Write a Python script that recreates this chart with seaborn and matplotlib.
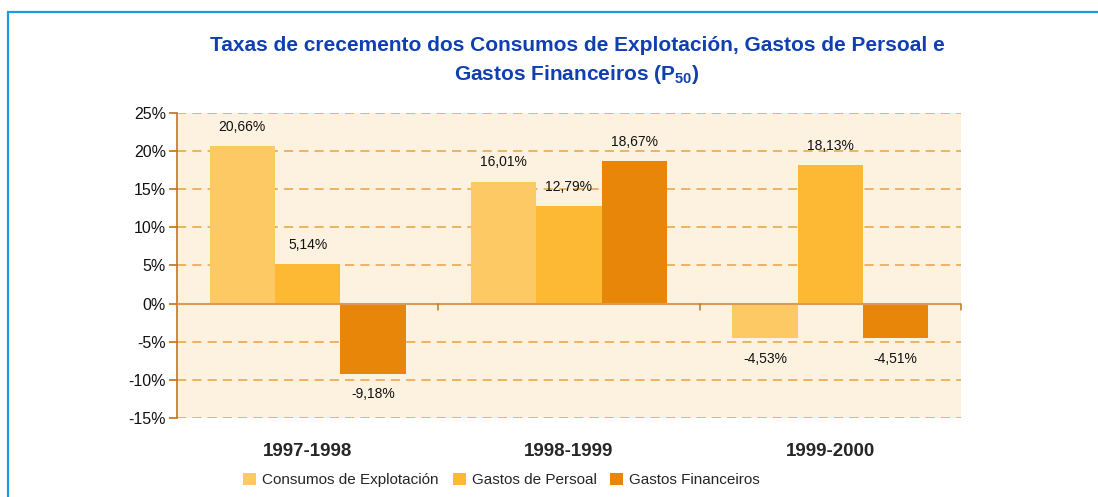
import matplotlib
matplotlib.use("Agg")
import matplotlib.pyplot as plt
import seaborn as sns
import pandas as pd
from matplotlib.patches import Rectangle, Patch
from matplotlib.ticker import FuncFormatter

periods = ["1997-1998", "1998-1999", "1999-2000"]
series = ["Consumos de Explotación", "Gastos de Persoal", "Gastos Financeiros"]
consumos = [20.66, 16.01, -4.53]
persoal = [5.14, 12.79, 18.13]
financeiros = [-9.18, 18.67, -4.51]
colors = ["#FDC965", "#FDB934", "#E8860A"]
yticks = [-15, -10, -5, 0, 5, 10, 15, 20, 25]

rows = []
for s, vals in zip(series, [consumos, persoal, financeiros]):
    for p, v in zip(periods, vals):
        rows.append({"period": p, "series": s, "value": v})
df = pd.DataFrame(rows)

sns.set_theme(style="white")
plt.rcParams["font.family"] = ["Liberation Sans", "DejaVu Sans"]

fig = plt.figure(figsize=(10.98, 4.97), dpi=100)
ax = fig.add_axes([0.1612, 0.159, 0.714, 0.6137])

# outer blue frame
fig.patches.append(Rectangle((0.0073, -0.1), 1.2, 0.1 + 0.976, transform=fig.transFigure,
                             fill=False, edgecolor="#1A9AE0", linewidth=1.6))

ax.set_facecolor("#FDF2DF")
sns.barplot(data=df, x="period", y="value", hue="series", palette=colors,
            order=periods, hue_order=series, width=0.75, gap=0, ax=ax,
            saturation=1, legend=False, edgecolor="none", linewidth=0, zorder=3)

ax.set_ylim(-15, 25)
ax.set_xlim(-0.5, 2.5)
ax.set_yticks(yticks)
ax.yaxis.set_major_formatter(FuncFormatter(lambda v, _: f"{int(v)}%"))
for y in yticks:
    if y != 0:
        ax.axhline(y, color="#EBA040", linestyle=(0, (6, 4)), linewidth=1.1, zorder=1)
ax.axhline(0, color="#D99A5A", linewidth=1.5, zorder=4)

for sp in ["top", "right", "bottom"]:
    ax.spines[sp].set_visible(False)
ax.spines["left"].set_color("#C07820")
ax.spines["left"].set_linewidth(1.2)
ax.tick_params(axis="y", which="both", left=True, length=6, color="#C07820",
               labelsize=11.5, pad=2, labelcolor="#111111")
ax.tick_params(axis="x", bottom=False, pad=12)
ax.set_xticks(range(len(periods)))
ax.set_xticklabels(periods, fontsize=13.5, fontweight="bold")
ax.set_xlabel("")
ax.set_ylabel("")

# small ticks on zero line at category boundaries
for xb in [0.5, 1.5, 2.5]:
    ax.plot([xb, xb], [0, -0.9], color="#C07820", linewidth=1.1, zorder=4, clip_on=False)

# value labels
for container in ax.containers:
    for bar in container:
        h = bar.get_height()
        xc = bar.get_x() + bar.get_width() / 2
        txt = f"{h:.2f}".replace(".", ",") + "%"
        if h >= 0:
            ax.annotate(txt, (xc, h), xytext=(0, 9), textcoords="offset points",
                        ha="center", va="bottom", fontsize=10, color="#111111", zorder=5)
        else:
            ax.annotate(txt, (xc, h), xytext=(0, -10), textcoords="offset points",
                        ha="center", va="top", fontsize=10, color="#111111", zorder=5)

fig.text(0.5255, 0.909, "Taxas de crecemento dos Consumos de Explotación, Gastos de Persoal e",
         ha="center", va="center", fontsize=15, fontweight="bold", color="#1040B0")
fig.text(0.5255, 0.851, r"Gastos Financeiros (P$_{\mathregular{50}}$)",
         ha="center", va="center", fontsize=15, fontweight="bold", color="#1040B0")

handles = [Patch(facecolor=c, edgecolor="none") for c in colors]
fig.legend(handles, series, loc="center", bbox_to_anchor=(0.457, 0.034), ncol=3,
           frameon=False, fontsize=11, handlelength=0.85, handleheight=0.85,
           handletextpad=0.4, columnspacing=0.9)

fig.savefig("out.png", dpi=100, facecolor="white")
